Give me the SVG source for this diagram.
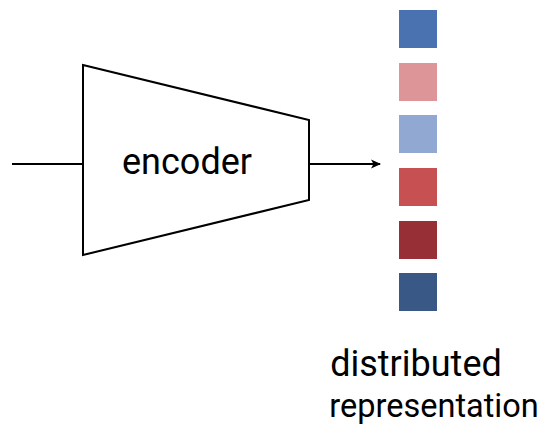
<svg xmlns="http://www.w3.org/2000/svg" width="541" height="431" viewBox="0 0 541 431">
<defs>
<marker id="ah" markerWidth="10" markerHeight="10" refX="9" refY="5" orient="auto" markerUnits="userSpaceOnUse">
<path d="M0,0.5 L10,5 L0,9.5 L2.5,5 Z" fill="#000"/>
</marker>
<style>
.lbl{font-family:Roboto,"Liberation Sans",sans-serif;font-size:36px;fill:#000;text-anchor:middle}
.ln{stroke:#000;stroke-width:2;fill:none}
</style>
</defs>
<rect width="541" height="431" fill="#fff"/>
<g id="connectors">
<line class="ln" x1="12" y1="164" x2="83" y2="164"/>
<line class="ln" x1="309" y1="164" x2="380" y2="164" marker-end="url(#ah)"/>
</g>
<g id="encoder">
<polygon points="83,65 309,120 309,200 83,255" fill="#fff" stroke="#000" stroke-width="2"/>
<text class="lbl" x="187" y="174">encoder</text>
</g>
<g id="representation">
<rect x="399" y="10" width="38" height="38" fill="#4A72B0"/>
<rect x="399" y="63" width="38" height="38" fill="#DD9598"/>
<rect x="399" y="115" width="38" height="38" fill="#91A9D2"/>
<rect x="399" y="168" width="38" height="38" fill="#C65052"/>
<rect x="399" y="221" width="38" height="38" fill="#963036"/>
<rect x="399" y="273" width="38" height="38" fill="#3A5886"/>
<text class="lbl" x="416" y="376">distributed</text>
<text class="lbl" x="434" y="417" style="font-size:32.5px">representation</text>
</g>
</svg>
